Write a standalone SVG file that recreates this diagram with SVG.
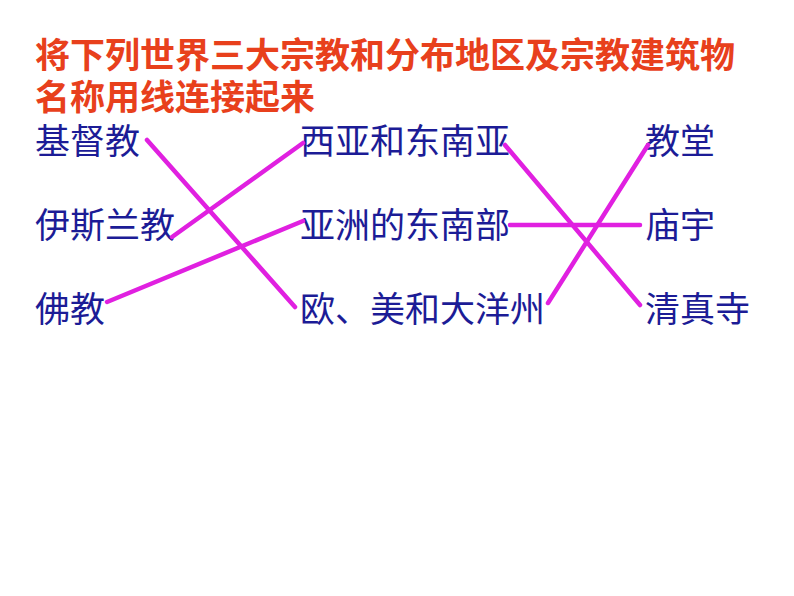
<svg xmlns="http://www.w3.org/2000/svg" width="794" height="596" viewBox="0 0 794 596">
<style>
.t{font-family:"Liberation Sans","Noto Sans CJK SC",sans-serif;font-size:35px;font-weight:bold;fill:#E8401C}
.b{font-family:"Liberation Sans","Noto Sans CJK SC",sans-serif;font-size:35px;fill:#1C1C96}
.c line{stroke:#E020E0;stroke-width:4.5;stroke-linecap:round}
</style>
<rect width="794" height="596" fill="#fff"/>
<g id="title"><text class="t" x="35" y="68">将下列世界三大宗教和分布地区及宗教建筑物</text><text class="t" x="35" y="110">名称用线连接起来</text></g>
<g id="n1"><text class="b" x="35" y="154">基督教</text></g>
<g id="n2"><text class="b" x="35" y="238">伊斯兰教</text></g>
<g id="n3"><text class="b" x="35" y="322">佛教</text></g>
<g id="n4"><text class="b" x="300" y="154">西亚和东南亚</text></g>
<g id="n5"><text class="b" x="300" y="238">亚洲的东南部</text></g>
<g id="n6"><text class="b" x="300" y="322">欧、美和大洋州</text></g>
<g id="n7"><text class="b" x="645" y="154">教堂</text></g>
<g id="n8"><text class="b" x="645" y="238">庙宇</text></g>
<g id="n9"><text class="b" x="645" y="322">清真寺</text></g>
<g class="c" id="connectors">
<line x1="147" y1="140" x2="295" y2="307"/>
<line x1="172" y1="237" x2="303" y2="143"/>
<line x1="107" y1="302" x2="303" y2="221"/>
<line x1="505" y1="145" x2="640" y2="305"/>
<line x1="510" y1="225" x2="640" y2="225"/>
<line x1="548" y1="303" x2="648" y2="145"/>
</g>
</svg>
